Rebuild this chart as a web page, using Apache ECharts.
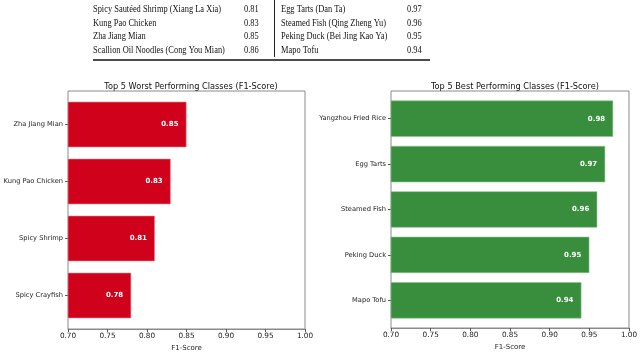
<!DOCTYPE html>
<html>
<head>
<meta charset="utf-8">
<script src="https://cdn.jsdelivr.net/npm/echarts@6/dist/echarts.min.js"></script>
<style>
  html, body { margin: 0; padding: 0; background: #fff; }
  #chart { width: 640px; height: 362px; }
</style>
</head>
<body>
<div id="chart"></div>
<script>
// table above the charts (visible rows)
var tableLeftNames = ["Spicy Sautéed Shrimp (Xiang La Xia)", "Kung Pao Chicken", "Zha Jiang Mian", "Scallion Oil Noodles (Cong You Mian)"];
var tableLeftValues = ["0.81", "0.83", "0.85", "0.86"];
var tableRightNames = ["Egg Tarts (Dan Ta)", "Steamed Fish (Qing Zheng Yu)", "Peking Duck (Bei Jing Kao Ya)", "Mapo Tofu"];
var tableRightValues = ["0.97", "0.96", "0.95", "0.94"];

// bar charts
var worstNames = ["Zha Jiang Mian", "Kung Pao Chicken", "Spicy Shrimp", "Spicy Crayfish"];
var worstScores = [0.85, 0.83, 0.81, 0.78];
var bestNames = ["Yangzhou Fried Rice", "Egg Tarts", "Steamed Fish", "Peking Duck", "Mapo Tofu"];
var bestScores = [0.98, 0.97, 0.96, 0.95, 0.94];

var chart = echarts.init(document.getElementById("chart"));

var rowY = [9, 23, 36, 50];
var graphics = [];
function cell(txt, x, y) {
  // times text in the pdf is narrow, squeeze it a bit
  return { type: "text", x: x, y: y, scaleX: 0.8,
    style: { text: txt, fontFamily: "Liberation Serif", fontSize: 10.5, fill: "#111", verticalAlign: "middle" } };
}
for (var i = 0; i < rowY.length; i++) {
  graphics.push(cell(tableLeftNames[i], 93, rowY[i]));
  graphics.push(cell(tableLeftValues[i], 244, rowY[i]));
  graphics.push(cell(tableRightNames[i], 281, rowY[i]));
  graphics.push(cell(tableRightValues[i], 407, rowY[i]));
}
graphics.push({ type: "line", shape: { x1: 274.5, y1: 0, x2: 274.5, y2: 57 }, style: { stroke: "#222", lineWidth: 1 } });
graphics.push({ type: "line", shape: { x1: 93, y1: 60, x2: 430, y2: 60 }, style: { stroke: "#111", lineWidth: 1.6 } });

function frameX(idx) {
  return {
    gridIndex: idx, type: "value", min: 0.7, max: 1.0, interval: 0.05,
    name: "F1-Score", nameLocation: "middle", nameGap: 10,
    nameTextStyle: { fontFamily: "DejaVu Sans", fontSize: 7, color: "#222" },
    axisLine: { show: true, lineStyle: { color: "#8a8a8a", width: 1 } },
    axisTick: { show: true, length: 3, lineStyle: { color: "#555" } },
    axisLabel: { fontFamily: "DejaVu Sans", fontSize: 7.3, color: "#222", margin: 4,
      formatter: function (v) { return v.toFixed(2); } },
    splitLine: { show: false }
  };
}
function barX(idx) {
  return { gridIndex: idx, type: "value", min: 0.7, max: 1.0, show: false, splitLine: { show: false } };
}
function catY(idx, names) {
  return {
    gridIndex: idx, type: "category", data: names, inverse: true,
    axisLine: { show: false },
    axisTick: { show: true, alignWithLabel: true, length: 3, lineStyle: { color: "#555" } },
    axisLabel: { fontFamily: "DejaVu Sans", fontSize: 6.7, color: "#222", margin: 5 }
  };
}
function barSeries(idx, scores, color, edge) {
  return {
    type: "bar", xAxisIndex: idx, yAxisIndex: idx, data: scores, barWidth: "80%",
    clip: true,
    itemStyle: { color: color, borderColor: edge, borderWidth: 0.6 },
    label: { show: true, position: "insideRight", distance: 8, color: "#fff",
      fontFamily: "DejaVu Sans", fontWeight: "bold", fontSize: 7,
      formatter: function (p) { return p.value.toFixed(2); } }
  };
}

chart.setOption({
  animation: false,
  title: [
    { text: "Top 5 Worst Performing Classes (F1-Score)", left: 186, top: 78, textAlign: "center",
      textStyle: { fontFamily: "DejaVu Sans", fontSize: 8.2, fontWeight: "normal", color: "#111" } },
    { text: "Top 5 Best Performing Classes (F1-Score)", left: 510, top: 78, textAlign: "center",
      textStyle: { fontFamily: "DejaVu Sans", fontSize: 8.2, fontWeight: "normal", color: "#111" } }
  ],
  grid: [
    { left: 68, top: 91, width: 237, height: 238, show: true, borderColor: "#8a8a8a", borderWidth: 1, outerBoundsMode: "none" },
    { left: 68, top: 96, width: 237, height: 228, outerBoundsMode: "none" },
    { left: 391, top: 91, width: 238, height: 237, show: true, borderColor: "#8a8a8a", borderWidth: 1, outerBoundsMode: "none" },
    { left: 391, top: 96, width: 238, height: 227, outerBoundsMode: "none" }
  ],
  xAxis: [frameX(0), barX(1), frameX(2), barX(3)],
  yAxis: [
    { gridIndex: 0, type: "value", show: false },
    catY(1, worstNames),
    { gridIndex: 2, type: "value", show: false },
    catY(3, bestNames)
  ],
  series: [
    barSeries(1, worstScores, "#d0021b", "#e8909a"),
    barSeries(3, bestScores, "#388e3c", "#8cc48f")
  ],
  graphic: graphics
});
</script>
</body>
</html>
